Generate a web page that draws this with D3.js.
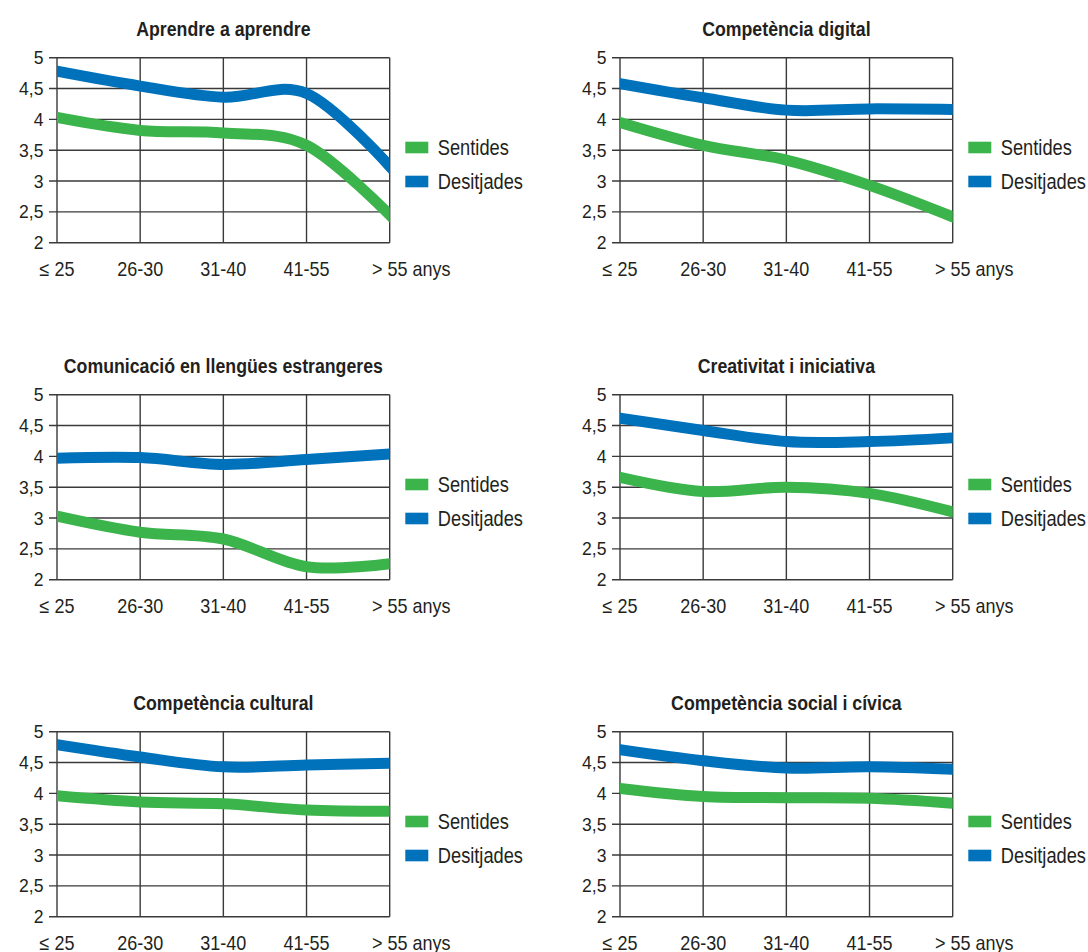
<!DOCTYPE html>
<html>
<head>
<meta charset="utf-8">
<script src="https://cdn.jsdelivr.net/npm/d3@7"></script>
<style>
  html, body { margin: 0; padding: 0; background: #fff; }
  svg { display: block; }
  text { font-family: "Liberation Sans", Arial, sans-serif; fill: #231f20; }
</style>
</head>
<body>
<svg id="chart" width="1088" height="952"></svg>
<script>
// ---- data ----
const categories = ["≤ 25", "26-30", "31-40", "41-55", "> 55 anys"];
const titles = [
  "Aprendre a aprendre",
  "Competència digital",
  "Comunicació en llengües estrangeres",
  "Creativitat i iniciativa",
  "Competència cultural",
  "Competència social i cívica"
];
const seriesNames = ["Sentides", "Desitjades"];
const sentides = [
  [4.03, 3.82, 3.78, 3.58, 2.45],
  [3.95, 3.58, 3.34, 2.93, 2.42],
  [3.03, 2.77, 2.66, 2.21, 2.26],
  [3.66, 3.43, 3.50, 3.40, 3.10],
  [3.96, 3.86, 3.83, 3.73, 3.71],
  [4.08, 3.95, 3.93, 3.92, 3.84]
];
const desitjades = [
  [4.78, 4.54, 4.36, 4.42, 3.24],
  [4.58, 4.35, 4.15, 4.17, 4.16],
  [3.97, 3.98, 3.87, 3.95, 4.04],
  [4.62, 4.42, 4.24, 4.24, 4.30],
  [4.79, 4.59, 4.43, 4.46, 4.49],
  [4.71, 4.53, 4.41, 4.43, 4.39]
];
const yTicks = [2, 2.5, 3, 3.5, 4, 4.5, 5];
const yDomain = [2, 5];

// ---- styles / layout ----
const colors = ["#3bb44b", "#0072bc"];
const plotW = 332.7, plotH = 185;
const colX = [57, 620];
const rowY = [57.7, 394.7, 731.7];

const svg = d3.select("#chart");
const fmt = v => String(v).replace(".", ",");

// condensed text helper: horizontally scaled Liberation Sans
function addText(parent, x, y, str, size, sx, anchor, bold) {
  return parent.append("text")
    .attr("transform", `translate(${x},${y}) scale(${sx},1)`)
    .attr("text-anchor", anchor || "start")
    .style("font-size", size + "px")
    .style("font-weight", bold ? "bold" : "normal")
    .text(str);
}

titles.forEach((title, i) => {
  const col = i % 2, row = Math.floor(i / 2);
  const g = svg.append("g").attr("transform", `translate(${colX[col]},${rowY[row]})`);
  const x = d3.scalePoint().domain(categories).range([0, plotW]);
  const y = d3.scaleLinear().domain(yDomain).range([plotH, 0]);

  // title
  addText(g, plotW / 2, -21.7, title, 20.5, 0.865, "middle", true);

  // horizontal gridlines + ticks
  g.selectAll(".hg").data(yTicks).enter().append("line")
    .attr("x1", -8).attr("x2", plotW)
    .attr("y1", d => y(d)).attr("y2", d => y(d))
    .attr("stroke", "#3a3a3a").attr("stroke-width", 1.4);
  // vertical gridlines
  g.selectAll(".vg").data(categories).enter().append("line")
    .attr("x1", d => x(d)).attr("x2", d => x(d))
    .attr("y1", 0).attr("y2", plotH)
    .attr("stroke", "#3a3a3a").attr("stroke-width", 1.4);

  // y tick labels
  yTicks.forEach(t => addText(g, -13.5, y(t) + 6.5, fmt(t), 18.5, 0.95, "end"));

  // x labels
  const xs = 20, xsx = 0.9;
  categories.forEach((c, k) => {
    if (k === categories.length - 1) {
      const head = c.split(" ").slice(0, 2).join(" ");
      const tmp = g.append("text").style("font-size", xs + "px").text(head);
      const w = tmp.node().getComputedTextLength() * xsx;
      tmp.remove();
      addText(g, x(c) - w / 2, plotH + 33, c, xs, xsx, "start");
    } else {
      addText(g, x(c), plotH + 33, c, xs, xsx, "middle");
    }
  });

  // clip
  const clipId = "clip" + i;
  g.append("clipPath").attr("id", clipId).append("rect")
    .attr("x", 0).attr("y", 0).attr("width", plotW).attr("height", plotH);

  const line = d3.line()
    .x((d, k) => x(categories[k]))
    .y(d => y(d))
    .curve(d3.curveCardinal.tension(0));

  [sentides[i], desitjades[i]].forEach((vals, s) => {
    g.append("path")
      .datum(vals)
      .attr("clip-path", `url(#${clipId})`)
      .attr("d", line)
      .attr("fill", "none")
      .attr("stroke", colors[s])
      .attr("stroke-width", 11)
      .attr("stroke-linecap", "square");
  });

  // legend
  const lg = g.append("g").attr("transform", `translate(${plotW + 15.6},0)`);
  seriesNames.forEach((name, s) => {
    const ry = 84 + s * 34;
    lg.append("rect").attr("x", 0).attr("y", ry).attr("width", 23).attr("height", 11.6).attr("fill", colors[s]);
    addText(lg, 32.5, ry + 13.2, name, 22, 0.83, "start");
  });
});
</script>
</body>
</html>
